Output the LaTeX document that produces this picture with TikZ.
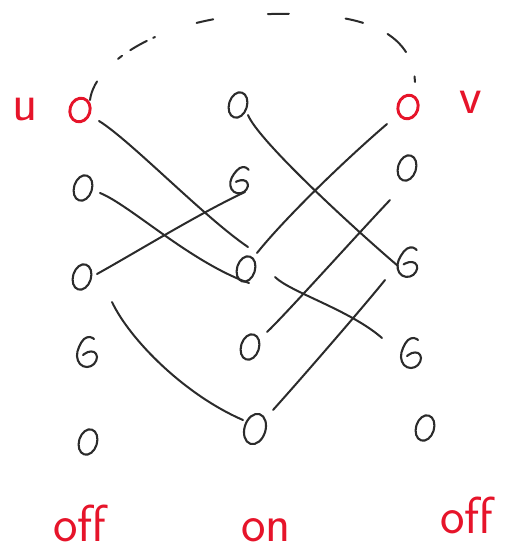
\documentclass[tikz,border=0pt]{standalone}
\usetikzlibrary{shapes.geometric}
\definecolor{ink}{HTML}{2B2B2B}
\definecolor{pen}{HTML}{E6142A}
\tikzset{
  vtx/.style={ellipse, draw=ink, line width=2.1pt, minimum width=18pt, minimum height=26pt, inner sep=0pt, rotate=-17},
  vtxr/.style={vtx, draw=pen, line width=2.9pt, minimum width=20pt, minimum height=24pt},
  sixvtx/.style={ellipse, draw=none, minimum width=18pt, minimum height=26pt, inner sep=0pt},
  edge/.style={draw=ink, line width=2pt, line cap=round},
  glyph/.style={draw=ink, line width=2.1pt, line cap=round, line join=round},
  six/.pic={\draw[glyph] plot[smooth, tension=0.65] coordinates
     {(7,-13) (3,-15) (-3,-13) (-8,-5) (-10,4) (-7,12) (0,15) (7,12) (10,5) (7,0) (1,0) (-4,3)};},
  arcline/.style={edge, dash pattern=on 20pt off 31pt on 5pt off 10pt on 19pt off 7pt on 2pt off 44pt on 17pt off 55pt on 21pt off 57pt on 18pt off 27pt on 26pt off 26pt on 13pt off 20pt},
  lbl/.style={text=pen, font=\sffamily\fontsize{52}{52}\selectfont, inner sep=0pt}
}
\begin{document}
\begin{tikzpicture}[x=1pt,y=-1pt]
\useasboundingbox (0,0) rectangle (510,553);
% vertices
\node[vtxr] (u) at (80,110) {};
\node[vtx] (m1) at (238,105) {};
\node[vtxr] (v) at (408,107) {};
\node[vtx] (l2) at (83,188) {};
\node[sixvtx] (m2) at (240,180) {};
\pic[rotate=-12, scale=0.9] at (m2) {six};
\node[vtx] (r2) at (407,168) {};
\node[vtx] (l3) at (82,277) {};
\node[vtx] (m3) at (246,269) {};
\node[sixvtx] (r3) at (408,262) {};
\pic[rotate=-8] at (r3) {six};
\node[sixvtx] (l4) at (87,352) {};
\pic at (l4) {six};
\node[vtx] (m4) at (250,347) {};
\node[sixvtx] (r4) at (411,353) {};
\pic at (r4) {six};
\node[vtx] (l5) at (88,442) {};
\node[vtx, minimum width=21pt, minimum height=31pt] (m5) at (255,429) {};
\node[vtx] (r5) at (425,428) {};
% labels
\node[lbl] (lu) at (25,110) {u};
\node[lbl] (lv) at (471,102) {v};
\node[lbl] (off1) at (80,523) {off};
\node[lbl] (on) at (266,530) {on};
\node[lbl] (off2) at (467,515) {off};
% edges
\draw[edge] ([shift={(19,11)}]u.center) .. controls (130,140) and (205,218) .. ([shift={(2,-22)}]m3.center);
\draw[edge] ([shift={(17,5)}]l2.center) .. controls (130,205) and (190,262) .. ([shift={(3,14)}]m3.center);
\draw[edge] ([shift={(15,-3)}]l3.center) .. controls (140,250) and (200,213) .. ([shift={(5,12)}]m2.center);
\draw[edge] ([shift={(11,-16)}]m3.center) .. controls (285,218) and (345,160) .. ([shift={(-21,17)}]v.center);
\draw[edge] ([shift={(10,10)}]m1.center) .. controls (258,140) and (350,225) .. ([shift={(-10,4)}]r3.center);
\draw[edge] ([shift={(29,8)}]m3.center) .. controls (290,292) and (350,310) .. ([shift={(-29,-15)}]r4.center);
\draw[edge] ([shift={(17,-15)}]m4.center) .. controls (285,315) and (355,237) .. ([shift={(-17,32)}]r2.center);
\draw[edge] ([shift={(30,25)}]l3.center) .. controls (130,340) and (185,395) .. ([shift={(-12,-9)}]m5.center);
\draw[edge] ([shift={(18,-19)}]m5.center) .. controls (300,380) and (365,305) .. ([shift={(-23,18)}]r3.center);
% dashed arc
\coordinate (top) at (272,14);
\draw[arcline] ([shift={(10,-10)}]u.center) .. controls (95,60) and (170,14) .. (top)
  .. controls (350,12) and (412,25) .. ([shift={(7,-25)}]v.center);
\end{tikzpicture}
\end{document}
